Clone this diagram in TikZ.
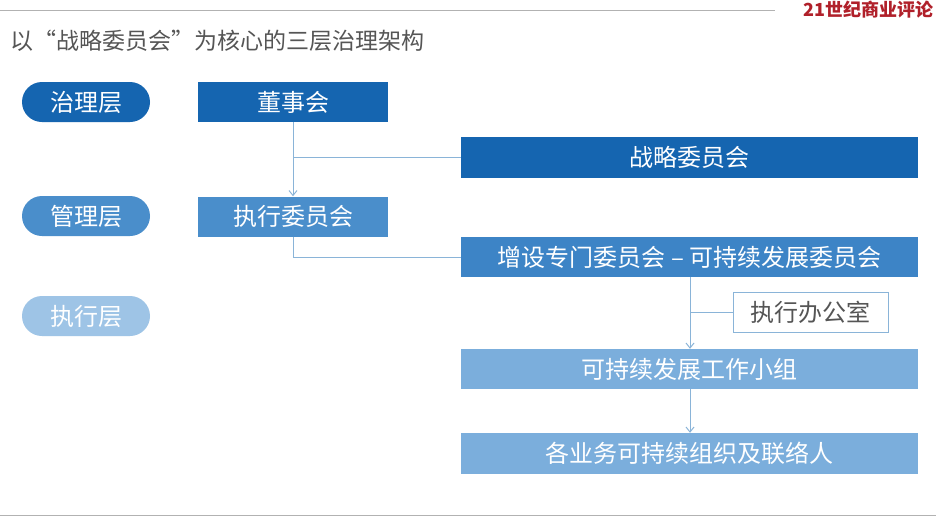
\documentclass[tikz,border=0pt]{standalone}
\usepackage{fontspec}
\newfontfamily\cjk{Noto Sans CJK SC}
\usetikzlibrary{arrows.meta}
\definecolor{dk}{HTML}{1565B0}
\definecolor{md}{HTML}{4A8ECB}
\definecolor{md2}{HTML}{3D84C6}
\definecolor{lt}{HTML}{7BAEDC}
\definecolor{pl}{HTML}{9EC4E6}
\definecolor{ln}{HTML}{8AB4D8}
\definecolor{gr}{HTML}{555555}
\definecolor{logo}{HTML}{B0202A}
\begin{document}
\begin{tikzpicture}[x=1pt,y=-1pt,
 box/.style={draw=none,minimum height=40pt,inner sep=0pt,text=white,font=\cjk\fontsize{24}{24}\selectfont},
 pill/.style={box,rounded corners=20pt,minimum width=128pt},
 conn/.style={draw=ln,line width=1pt},
 arr/.style={conn,-{Straight Barb[length=5pt,width=8pt]}}]
\useasboundingbox (0,0) rectangle (936,520);
\fill[white] (0,0) rectangle (936,520);
\draw[gray!60,line width=1pt] (0,10) -- (775,10);
\draw[gray!60,line width=1pt] (0,515) -- (936,515);
\node[anchor=east,text=logo,font=\cjk\bfseries\fontsize{18}{18}\selectfont,inner sep=0pt] (logo) at (934,10) {21世纪商业评论};
\node[anchor=west,text=gr,font=\cjk\fontsize{23}{23}\selectfont,inner sep=0pt] (title) at (10,41) {以“战略委员会”为核心的三层治理架构};
\node[pill,fill=dk] (p1) at (86,102) {治理层};
\node[pill,fill=md] (p2) at (86,216) {管理层};
\node[pill,fill=pl] (p3) at (86,316) {执行层};
\node[box,fill=dk,minimum width=190pt] (dsh) at (293,102) {董事会};
\node[box,fill=md,minimum width=190pt] (zx) at (293,216.5) {执行委员会};
\node[box,fill=dk,minimum width=457pt,minimum height=41pt] (zl) at (689.5,157.5) {战略委员会};
\node[box,fill=md2,minimum width=457pt] (zs) at (689.5,257) {增设专门委员会 – 可持续发展委员会};
\node[box,fill=white,draw=ln,line width=1pt,text=gr,minimum width=155pt] (bgs) at (810.5,312) {执行办公室};
\node[box,fill=lt,minimum width=457pt] (xz) at (689.5,369) {可持续发展工作小组};
\node[box,fill=lt,minimum width=457pt,minimum height=41pt] (gy) at (689.5,453.5) {各业务可持续组织及联络人};
\draw[arr] (dsh.south) -- (zx.north);
\draw[conn] (zl.west) -- (293,157.5);
\draw[conn] (zx.south) |- (zs.west);
\draw[arr] (zs.south-|690,0) -- (xz.north-|690,0);
\draw[conn] (bgs.west) -- (690,312);
\draw[arr] (xz.south-|690,0) -- (gy.north-|690,0);
\end{tikzpicture}
\end{document}
